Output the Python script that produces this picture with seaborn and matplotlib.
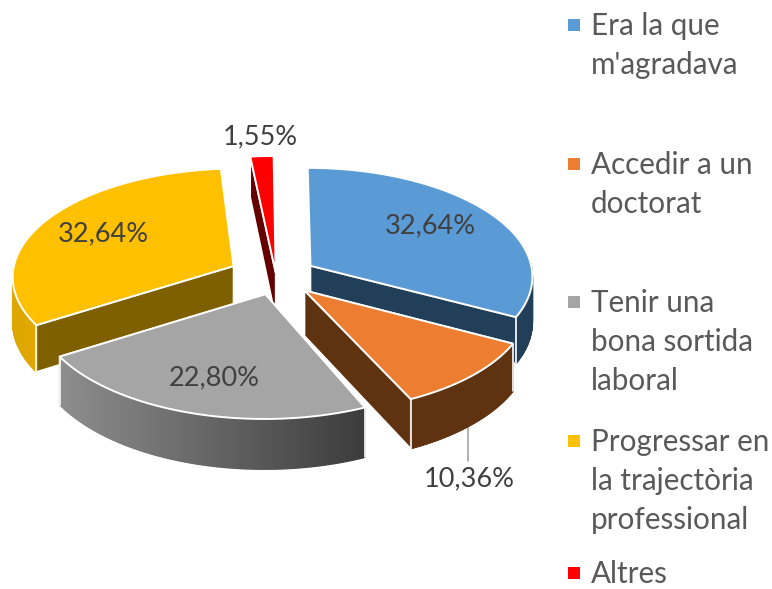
"""
Exploded 3D pie - motius per cursar el mestratge
"""

import numpy as np
import matplotlib.pyplot as plt
import matplotlib.colors as mcolors
import seaborn as sns

# %% data

labels = ["Era la que\nm'agradava", "Accedir a un\ndoctorat", "Tenir una\nbona sortida\nlaboral",
          "Progressar en\nla trajectòria\nprofessional", "Altres"]
values = [32.64, 10.36, 22.80, 32.64, 1.55]
colors = ['#5B9BD5', '#ED7D31', '#A5A5A5', '#FFC000', '#FF0000']
cut_colors = ['#223F59', '#5F3210', '#636363', '#7F6000', '#660000']
wall_left = ['#223F59', '#5F3210', '#8E8E8E', '#DDA600', '#660000']
wall_right = ['#223F59', '#5F3210', '#3C3C3C', '#E0A800', '#660000']
explode = [0.18, 0.18, 0.17, 0.21, 0.03]
# small per slice corrections for the excel perspective
turn = [0, 0, 1.5, 1, -0.5]
radius = [0.985, 0.98, 1.0, 0.98, 1.18]

# %% layout of the fake 3d

CX, CY = 276, 276
RX, RY = 226, 110
PERSP = 0.09
DEPTH = 45

sns.set_theme(style='white')
plt.rcParams['font.family'] = ['Lato', 'DejaVu Sans']


def project(x, y, drop=0.0):
    s = 1 / (1 + PERSP * y)
    return CX + RX * s * x, CY - RY * s * y + drop * s


def face(ax, px, py, color, zorder, edge='none', lw=0):
    ax.fill(px, py, facecolor=color, edgecolor=edge, linewidth=lw, zorder=zorder, joinstyle='round')


fig = plt.figure(figsize=(7.72, 5.89), dpi=100)
ax = fig.add_axes([0, 0, 1, 1])
ax.set_xlim(0, 772)
ax.set_ylim(589, 0)
ax.axis('off')

shares = np.array(values) / sum(values) * 2 * np.pi
ends = np.cumsum(shares)
starts = ends - shares

# back slices first, front ones last
order = [4, 0, 3, 2, 1]
for k, i in enumerate(order):
    base = 10 + k * 10
    mid = (starts[i] + ends[i]) / 2
    ox, oy = explode[i] * np.sin(mid), explode[i] * np.cos(mid)
    a0, a1 = starts[i] + np.radians(turn[i]), ends[i] + np.radians(turn[i])
    r = radius[i]
    theta = np.linspace(a0, a1, 120)
    rx, ry = ox + r * np.sin(theta), oy + r * np.cos(theta)

    # the two cut faces, lower one on top
    cuts = sorted([a0, a1], key=lambda a: -np.cos(a))
    for n, a in enumerate(cuts):
        ex, ey = ox + r * np.sin(a), oy + r * np.cos(a)
        x0, y0 = project(ox, oy)
        x1, y1 = project(ex, ey)
        x2, y2 = project(ex, ey, DEPTH)
        x3, y3 = project(ox, oy, DEPTH)
        face(ax, [x0, x1, x2, x3], [y0, y1, y2, y3], cut_colors[i], base + n, 'white', 1.2)

    # outer wall, only the part facing the viewer, shaded step by step
    left = np.array(mcolors.to_rgb(wall_left[i]))
    right = np.array(mcolors.to_rgb(wall_right[i]))
    tx, ty = project(rx, ry)
    bx, by = project(rx, ry, DEPTH)
    vis = np.where(np.cos(theta) < 0.02)[0]
    if len(vis) > 1:
        for j in vis[:-1]:
            f = (tx[j] - tx[vis].min()) / max(np.ptp(tx[vis]), 1)
            c = tuple(left + (right - left) * f)
            face(ax, [tx[j], tx[j + 1], bx[j + 1], bx[j]], [ty[j], ty[j + 1], by[j + 1], by[j]],
                 c, base + 3, c, 1.0)
        for a in [a0, a1]:
            if np.cos(a) < 0.02:
                ex, ey = ox + r * np.sin(a), oy + r * np.cos(a)
                x1, y1 = project(ex, ey)
                x2, y2 = project(ex, ey, DEPTH)
                ax.plot([x1, x2], [y1, y2], color='white', lw=1.2, zorder=base + 4)

    # top of the slice
    px, py = project(np.r_[ox, rx], np.r_[oy, ry])
    face(ax, px, py, colors[i], base + 5, 'white', 1.4)

# %% labels

text_pos = [(430, 226), (469, 479), (214, 378), (103, 234), (260, 137)]
for v, (x, y) in zip(values, text_pos):
    ax.text(x, y, f'{v:.2f}%'.replace('.', ','), ha='center', va='center',
            fontsize=19.5, color='#404040', zorder=100)
ax.plot([468, 468], [424, 461], color='#A6A6A6', lw=1.2, zorder=5)

# %% legend

legend_y = [25, 164, 302, 441, 573]
for name, c, y in zip(labels, colors, legend_y):
    ax.scatter([574], [y], marker='s', s=85, color=c, linewidths=0, zorder=100)
    for n, line in enumerate(name.split('\n')):
        ax.text(591, y + n * 38.8 + 10, line, ha='left', va='baseline', fontsize=21.3, color='#595959')

fig.savefig('out.png', dpi=100)
